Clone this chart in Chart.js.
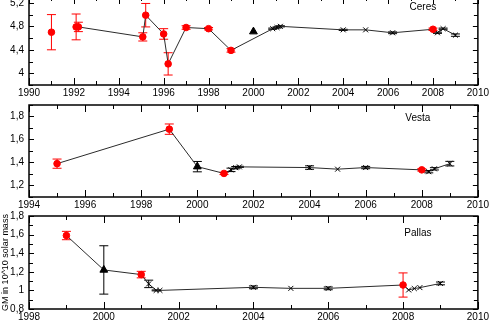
<!DOCTYPE html>
<html><head><meta charset="utf-8">
<script src="https://cdn.jsdelivr.net/npm/chart.js@4/dist/chart.umd.min.js"></script>
<style>
html,body{margin:0;padding:0;background:#fff;overflow:hidden;width:491px;height:322px;position:relative}
.w{position:absolute;left:0;width:491px}
canvas{display:block}
</style></head><body>
<div class="w" id="w1"><canvas id="c1"></canvas></div>
<div class="w" id="w2"><canvas id="c2"></canvas></div>
<div class="w" id="w3"><canvas id="c3"></canvas></div>
<script>
// ---------- DATA ----------
// kind: R = red circle, T = black triangle, X = black cross ; joined: 1 = on the connecting line
const ceresYear   = [1991.0,1992.1,1992.2,1995.07,1995.2,1996.0,1996.2,1997.0,1998.0,1999.0,2000.0,2000.86,2001.05,2001.2,2004.0,2005.0,2006.2,2008.0,2008.2,2008.45,2009.0];
const ceresGM     = [4.70,4.79,4.79,4.62,4.99,4.67,4.16,4.78,4.76,4.39,4.71,4.76,4.78,4.80,4.74,4.74,4.69,4.75,4.69,4.76,4.65];
const ceresErr    = [0.30,0.22,0.08,0.07,0.20,0.09,0.19,0.03,0.02,0.03,0,0.01,0.01,0.01,0.01,0,0.015,0.02,0.01,0.01,0.02];
const ceresKind   = ['R','R','R','R','R','R','R','R','R','R','T','X','X','X','X','X','X','R','X','X','X'];
const ceresJoined = [0,1,1,1,1,1,1,1,1,1,0,1,1,1,1,1,1,1,1,1,1];
const ceresXTicks = [1990,1992,1994,1996,1998,2000,2002,2004,2006,2008,2010];
const ceresYTicks = [4,4.4,4.8,5.2];

const vestaYear   = [1995.0,1999.0,2000.0,2000.95,2001.2,2001.37,2001.5,2004.0,2005.0,2006.0,2008.0,2008.25,2008.45,2009.0];
const vestaGM     = [1.39,1.69,1.364,1.305,1.336,1.355,1.362,1.356,1.342,1.356,1.336,1.32,1.345,1.39];
const vestaErr    = [0.04,0.045,0.045,0.01,0.015,0.01,0.005,0.015,0,0.01,0.01,0.01,0.01,0.02];
const vestaKind   = ['R','R','T','R','X','X','X','X','X','X','R','X','X','X'];
const vestaJoined = [1,1,1,1,1,1,1,1,1,1,1,1,1,1];
const vestaXTicks = [1994,1996,1998,2000,2002,2004,2006,2008,2010];
const vestaYTicks = [1.2,1.4,1.6,1.8];

const pallasYear   = [1999.0,2000.0,2001.0,2001.2,2001.4,2001.5,2004.0,2005.0,2006.0,2008.0,2008.15,2008.3,2008.45,2009.0];
const pallasGM     = [1.59,1.22,1.17,1.07,1.0,1.0,1.033,1.022,1.022,1.058,1.005,1.02,1.03,1.075];
const pallasErr    = [0.045,0.26,0.035,0.04,0.005,0,0.015,0,0.015,0.13,0,0,0,0.015];
const pallasKind   = ['R','T','R','X','X','X','X','X','X','R','X','X','X','X'];
const pallasJoined = [1,1,1,1,1,1,1,1,1,1,1,1,1,1];
const pallasXTicks = [1998,2000,2002,2004,2006,2008,2010];
const pallasYTicks = [0.8,1,1.2,1.4,1.6,1.8];

const yAxisTitle = 'GM in 10^10 solar mass';

// ---------- DRAWING ----------
const FONT = 'Liberation Sans, Arial, Helvetica, sans-serif';
const RED = '#ff0000';

const framePlugin = {
  id: 'frame',
  beforeDatasetsDraw(chart) {
    const ctx = chart.ctx, xs = chart.scales.x, ys = chart.scales.y;
    ctx.save();
    chart.data.datasets.forEach((ds, i) => {
      if (!ds.err) return;
      const meta = chart.getDatasetMeta(i);
      ctx.strokeStyle = ds.barColor; ctx.lineWidth = 1;
      ds.data.forEach((p, j) => {
        const e = ds.err[j]; if (!e) return;
        const x = xs.getPixelForValue(p.x);
        const y1 = ys.getPixelForValue(p.y + e), y2 = ys.getPixelForValue(p.y - e);
        const c = 4.5;
        ctx.beginPath();
        ctx.moveTo(x, y1); ctx.lineTo(x, y2);
        ctx.moveTo(x - c, y1); ctx.lineTo(x + c, y1);
        ctx.moveTo(x - c, y2); ctx.lineTo(x + c, y2);
        ctx.stroke();
      });
    });
    ctx.restore();
  },
  afterDraw(chart) {
    const ctx = chart.ctx, a = chart.chartArea, xs = chart.scales.x, ys = chart.scales.y;
    const o = chart.options.plugins.frame;
    ctx.save();
    ctx.strokeStyle = '#000'; ctx.lineWidth = 1.5;
    ctx.strokeRect(a.left, a.top, a.right - a.left, a.bottom - a.top);
    ctx.lineWidth = 1;
    ctx.beginPath();
    const majX = o.xTicks;
    for (let yr = Math.ceil(xs.min); yr <= xs.max; yr++) {
      const px = Math.round(xs.getPixelForValue(yr)) + 0.5;
      const len = majX.includes(yr) ? 7 : 4;
      ctx.moveTo(px, a.bottom); ctx.lineTo(px, a.bottom - len);
      ctx.moveTo(px, a.top); ctx.lineTo(px, a.top + len);
    }
    const step = o.yMinor;
    const n0 = Math.ceil(ys.min / step - 1e-6), n1 = Math.floor(ys.max / step + 1e-6);
    for (let n = n0; n <= n1; n++) {
      const v = n * step;
      const py = Math.round(ys.getPixelForValue(v)) + 0.5;
      const isMaj = o.yTicks.some(t => Math.abs(t - v) < 1e-6);
      const len = isMaj ? 5 : 4;
      ctx.moveTo(a.left, py); ctx.lineTo(a.left + len, py);
      ctx.moveTo(a.right, py); ctx.lineTo(a.right - len, py);
    }
    ctx.stroke();
    ctx.fillStyle = '#000';
    ctx.font = '10px ' + FONT;
    ctx.textAlign = 'center'; ctx.textBaseline = 'middle';
    ctx.fillText(o.name, a.right - o.nameDx, a.top + o.nameDy);
    ctx.restore();
  }
};

function fmt(v) { return String(v).replace('.', ','); }

function makePanel(id, wrapId, P) {
  const idx = P.year.map((_, i) => i);
  const datasets = [{
    data: idx.filter(i => P.joined[i]).map(i => ({x: P.year[i], y: P.gm[i]})),
    showLine: true, pointRadius: 0, borderColor: '#2b2b2b', borderWidth: 1, order: 10
  }];
  const styles = {
    R: {pointStyle: 'circle', pointRadius: 3.3, backgroundColor: RED, borderColor: RED, borderWidth: 1, barColor: RED},
    T: {pointStyle: 'triangle', pointRadius: 4.5, backgroundColor: '#000', borderColor: '#000', borderWidth: 1, barColor: '#000'},
    X: {pointStyle: 'crossRot', pointRadius: 3.5, backgroundColor: '#000', borderColor: '#000', borderWidth: 1, barColor: '#000'}
  };
  ['R', 'T', 'X'].forEach(k => {
    const sel = idx.filter(i => P.kind[i] === k);
    datasets.push(Object.assign({
      data: sel.map(i => ({x: P.year[i], y: P.gm[i]})),
      err: sel.map(i => P.err[i]),
      showLine: false, order: 1
    }, styles[k]));
  });
  const padTop = 10, xH = 20;
  const plotH = P.bottom - P.top;
  const H = padTop + plotH + xH;
  const cv = document.getElementById(id);
  cv.width = 491; cv.height = H;
  cv.style.width = '491px'; cv.style.height = H + 'px';
  const chart = new Chart(cv, {
    type: 'scatter',
    data: {datasets},
    options: {
      animation: false, responsive: false, devicePixelRatio: 1,
      layout: {padding: {top: padTop, right: 11, left: 0, bottom: 0}},
      plugins: {
        legend: {display: false}, tooltip: {enabled: false},
        frame: {xTicks: P.xTicks, yTicks: P.yTicks, yMinor: P.yMinor, name: P.name, nameDx: P.nameDx, nameDy: P.nameDy}
      },
      scales: {
        x: {
          type: 'linear', min: P.xMin, max: P.xMax,
          afterBuildTicks: s => { s.ticks = P.xTicks.map(v => ({value: v})); },
          afterFit: s => { s.height = xH; },
          grid: {display: false, drawTicks: false}, border: {display: false},
          ticks: {padding: 2, color: '#000', font: {family: FONT, size: 10}, autoSkip: false, maxRotation: 0, callback: v => String(v)}
        },
        y: {
          type: 'linear', min: P.yMin, max: P.yMax,
          afterBuildTicks: s => { s.ticks = P.yTicks.map(v => ({value: v})); },
          afterFit: s => { s.width = 29; },
          grid: {display: false, drawTicks: false}, border: {display: false},
          ticks: {padding: 5, color: '#000', font: {family: FONT, size: 10}, autoSkip: false, callback: v => fmt(v)},
          title: {display: !!P.title, text: P.title || '', color: '#000', font: {family: FONT, size: 9}, padding: {top: 0, bottom: 0}}
        }
      }
    },
    plugins: [framePlugin]
  });
  const w = document.getElementById(wrapId);
  w.style.top = (P.top - chart.chartArea.top) + 'px';
  return chart;
}

makePanel('c1', 'w1', {year: ceresYear, gm: ceresGM, err: ceresErr, kind: ceresKind, joined: ceresJoined,
  xMin: 1990, xMax: 2010, xTicks: ceresXTicks, yMin: 3.8, yMax: 5.3, yTicks: ceresYTicks, yMinor: 0.2,
  top: -3, bottom: 86, name: 'Ceres', nameDx: 55, nameDy: 10});
makePanel('c2', 'w2', {year: vestaYear, gm: vestaGM, err: vestaErr, kind: vestaKind, joined: vestaJoined,
  xMin: 1994, xMax: 2010, xTicks: vestaXTicks, yMin: 1.1, yMax: 1.9, yTicks: vestaYTicks, yMinor: 0.1,
  top: 105, bottom: 198, name: 'Vesta', nameDx: 60, nameDy: 13});
makePanel('c3', 'w3', {year: pallasYear, gm: pallasGM, err: pallasErr, kind: pallasKind, joined: pallasJoined,
  xMin: 1998, xMax: 2010, xTicks: pallasXTicks, yMin: 0.8, yMax: 1.8, yTicks: pallasYTicks, yMinor: 0.1,
  top: 216, bottom: 310, name: 'Pallas', nameDx: 60, nameDy: 17, title: yAxisTitle});
</script>
</body></html>
